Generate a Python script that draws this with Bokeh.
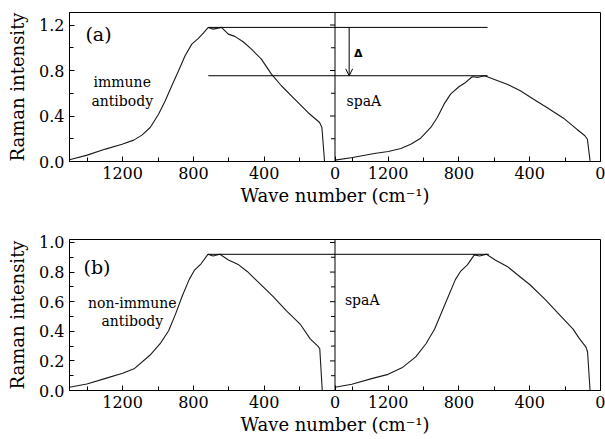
import numpy as np
from bokeh.plotting import figure
from bokeh.layouts import column
from bokeh.models import (Range1d, FixedTicker, NumeralTickFormatter, Span, Arrow, OpenHead)
from bokeh.core.properties import value
from bokeh.embed import file_html
from bokeh.resources import INLINE

# ---------------- data (wave number cm^-1, Raman intensity) ----------------
immune_w = [1500, 1400, 1297, 1203, 1137, 1091, 1044, 997, 959, 922, 884, 847, 809, 772, 744,
            716, 688, 641, 603, 566, 519, 472, 416, 359, 303, 228, 153, 87, 74, 59]
immune_i = [0.015, 0.056, 0.109, 0.152, 0.188, 0.232, 0.299, 0.416, 0.534, 0.666, 0.798, 0.930,
            1.032, 1.082, 1.129, 1.179, 1.164, 1.179, 1.12, 1.10, 1.053, 0.988, 0.90, 0.768,
            0.666, 0.548, 0.431, 0.343, 0.299, 0.0]

spaA_a_w = [1500, 1400, 1278, 1199, 1128, 1072, 1016, 959, 922, 884, 847, 800, 762, 725, 690,
            655, 603, 528, 453, 378, 303, 209, 134, 88, 74, 59]
spaA_a_i = [0.012, 0.035, 0.070, 0.088, 0.114, 0.152, 0.205, 0.299, 0.387, 0.504, 0.592, 0.657,
            0.695, 0.745, 0.740, 0.754, 0.724, 0.680, 0.622, 0.548, 0.475, 0.381, 0.284, 0.226,
            0.196, 0.006]

nonimm_w = [1500, 1402, 1296, 1200, 1132, 1046, 988, 940, 901, 863, 824, 795, 757, 718, 689,
            650, 602, 544, 496, 429, 352, 274, 197, 140, 97, 86, 72]
nonimm_i = [0.022, 0.044, 0.082, 0.116, 0.149, 0.238, 0.316, 0.404, 0.516, 0.638, 0.749, 0.811,
            0.856, 0.92, 0.909, 0.92, 0.882, 0.849, 0.804, 0.727, 0.638, 0.538, 0.449, 0.349,
            0.30, 0.282, 0.0]

spaA_b_w = [1500, 1405, 1288, 1200, 1122, 1044, 986, 937, 898, 859, 820, 791, 752, 713, 683,
            644, 595, 527, 469, 400, 313, 235, 156, 118, 82, 73, 59]
spaA_b_i = [0.022, 0.042, 0.082, 0.109, 0.153, 0.227, 0.316, 0.416, 0.527, 0.638, 0.749, 0.804,
            0.849, 0.916, 0.909, 0.92, 0.882, 0.838, 0.782, 0.716, 0.616, 0.516, 0.416, 0.349,
            0.293, 0.26, 0.0]

x_major = [1200, 800, 400, 0]
x_minor = [1400, 1000, 600, 200]
y_major_a = [0.0, 0.4, 0.8, 1.2]
y_minor_a = [0.2, 0.6, 1.0]
y_major_b = [0.0, 0.2, 0.4, 0.6, 0.8, 1.0]
y_minor_b = [0.1, 0.3, 0.5, 0.7, 0.9]

W_MAX = 1500  # each panel spans 1500 -> 0 cm^-1


def left_u(w):
    return [W_MAX - v for v in w]


def right_u(w):
    return [2 * W_MAX - v for v in w]


SERIF = "DejaVu Serif"
LINE_COLOR = "#1a1a1a"


def make_row(height, border_left, border_right, border_top, border_bottom, y_max,
             y_major, y_minor):
    p = figure(width=605, height=height, output_backend="svg", toolbar_location=None,
               x_range=Range1d(0, 2 * W_MAX), y_range=Range1d(0, y_max),
               min_border_left=border_left, min_border_right=border_right,
               min_border_top=border_top, min_border_bottom=border_bottom)
    p.xgrid.visible = False
    p.ygrid.visible = False
    p.outline_line_color = "black"
    p.outline_line_width = 1
    p.outline_line_alpha = 1
    p.background_fill_color = "white"
    p.border_fill_color = "white"

    xpos = left_u(x_major) + right_u(x_major)
    xmin = left_u(x_minor) + right_u(x_minor)
    p.xaxis.ticker = FixedTicker(ticks=xpos, minor_ticks=xmin)
    p.xaxis.major_label_overrides = {float(pos): str(t) for pos, t in zip(xpos, x_major + x_major)}
    p.yaxis.ticker = FixedTicker(ticks=y_major, minor_ticks=y_minor)
    p.yaxis.formatter = NumeralTickFormatter(format="0.0")

    for ax in (p.xaxis[0], p.yaxis[0]):
        ax.major_tick_in = 5
        ax.major_tick_out = 0
        ax.minor_tick_in = 4
        ax.minor_tick_out = 0
        ax.axis_line_color = "black"
        ax.major_tick_line_color = "black"
        ax.minor_tick_line_color = "black"
        ax.major_label_text_font = SERIF
        ax.major_label_text_font_size = "16px"
        ax.major_label_text_color = "black"
        ax.axis_label_text_font = SERIF
        ax.axis_label_text_font_size = "18px"
        ax.axis_label_text_font_style = "normal"
        ax.axis_label_text_color = "black"
    p.xaxis.axis_label = "Wave number (cm\u207b\u00b9)"
    p.xaxis.major_label_standoff = 5
    p.xaxis.axis_label_standoff = 3
    p.yaxis.axis_label = "Raman intensity"
    p.yaxis.major_label_standoff = 5
    p.yaxis.axis_label_standoff = 8

    # divider between the two panels, with inward ticks of the left panel
    p.add_layout(Span(location=W_MAX, dimension="height", line_color="black", line_width=1))
    p.ray(x=[W_MAX] * len(y_major), y=y_major, length=5, length_units="screen",
          angle=np.pi, line_color="black", line_width=1)
    p.ray(x=[W_MAX] * len(y_minor), y=y_minor, length=4, length_units="screen",
          angle=np.pi, line_color="black", line_width=1)
    return p


# ---------------- row (a) ----------------
pa = make_row(228, 67, 5, 12, 67, 1.31, y_major_a, y_minor_a)
pa.line(left_u(immune_w), immune_i, line_color=LINE_COLOR, line_width=1.1)
pa.line(right_u(spaA_a_w), spaA_a_i, line_color=LINE_COLOR, line_width=1.1)

peak_a = max(immune_i)
low_a = max(spaA_a_i)
pa.segment(x0=[left_u([716])[0], left_u([716])[0]], y0=[peak_a, low_a],
           x1=[right_u([638])[0], right_u([638])[0]], y1=[peak_a, low_a],
           line_color="black", line_width=1)
pa.add_layout(Arrow(end=OpenHead(size=7, line_color="black", line_width=1),
                    x_start=right_u([1420])[0], y_start=peak_a,
                    x_end=right_u([1420])[0], y_end=low_a,
                    line_color="black", line_width=1))
pa.text(x=[right_u([1368])[0]], y=[0.952], text=["\u0394"], text_font=value("DejaVu Sans"),
        text_font_style="bold", text_font_size="11px", text_align="center",
        text_baseline="middle", text_color="black")
pa.text(x=[90], y=[1.12], text=["(a)"], text_font=value(SERIF), text_font_size="19px",
        text_align="left", text_baseline="alphabetic", text_color="black")
pa.text(x=[298, 298], y=[0.695, 0.534], text=["immune", "antibody"], text_font=value(SERIF),
        text_font_size="14px", text_align="center", text_baseline="alphabetic", text_color="black")
pa.text(x=[1565], y=[0.534], text=["spaA"], text_font=value(SERIF),
        text_font_size="14px", text_align="left", text_baseline="alphabetic", text_color="black")

# ---------------- row (b) ----------------
pb = make_row(211, 69, 4, 11, 49, 1.02, y_major_b, y_minor_b)
pb.line(left_u(nonimm_w), nonimm_i, line_color=LINE_COLOR, line_width=1.1)
pb.line(right_u(spaA_b_w), spaA_b_i, line_color=LINE_COLOR, line_width=1.1)
peak_b = max(nonimm_i)
pb.segment(x0=[left_u([718])[0]], y0=[peak_b], x1=[right_u([631])[0]], y1=[peak_b],
           line_color="black", line_width=1)
pb.text(x=[79], y=[0.831], text=["(b)"], text_font=value(SERIF), text_font_size="19px",
        text_align="left", text_baseline="alphabetic", text_color="black")
pb.text(x=[355, 355], y=[0.589, 0.467], text=["non-immune", "antibody"], text_font=value(SERIF),
        text_font_size="14px", text_align="center", text_baseline="alphabetic", text_color="black")
pb.text(x=[1556], y=[0.612], text=["spaA"], text_font=value(SERIF),
        text_font_size="14px", text_align="left", text_baseline="alphabetic", text_color="black")

layout = column(pa, pb, spacing=0)
open("out.html", "w").write(file_html(layout, INLINE))
